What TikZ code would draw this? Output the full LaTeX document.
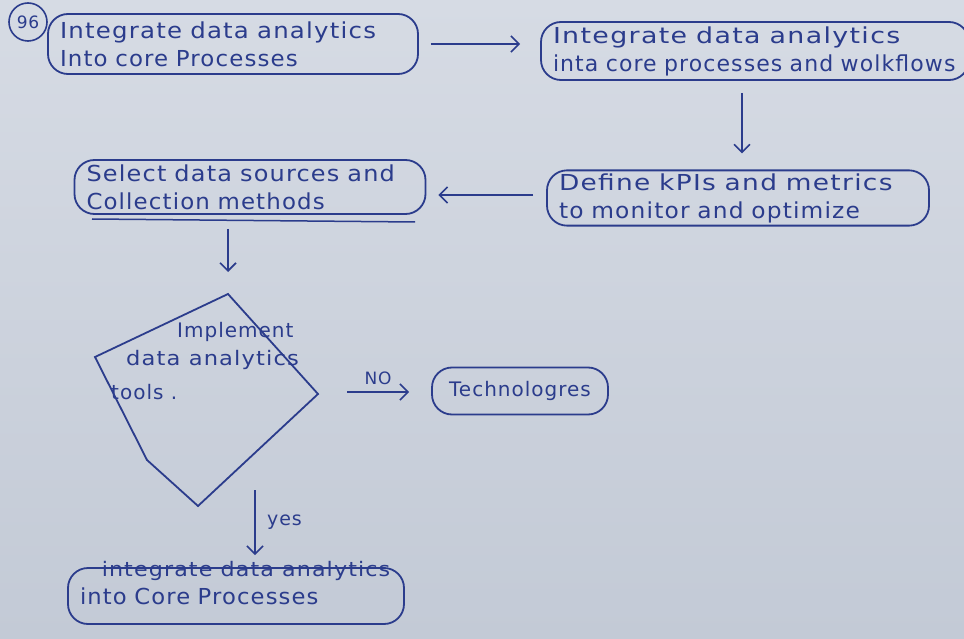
\documentclass[tikz,border=0pt]{standalone}
\usepackage{fontspec}
\setmainfont{DejaVu Sans}
\newfontfamily\hand[LetterSpace=5]{DejaVu Sans}
\usetikzlibrary{arrows.meta,calc}
\definecolor{ink}{HTML}{2B3C8C}
\definecolor{papertop}{HTML}{D6DBE4}
\definecolor{paperbot}{HTML}{C3CAD6}
\newcommand{\sx}[2]{\scalebox{#1}[1]{#2}}
\begin{document}
\begin{tikzpicture}[x=1pt,y=-1pt,
  every node/.style={font=\hand\fontsize{22}{28}\selectfont, text=ink},
  box/.style={draw=ink, line width=1.8pt, rounded corners=20pt, align=left, inner xsep=12pt, inner ysep=3pt},
  link/.style={draw=ink, line width=1.6pt, -{Straight Barb[length=8pt,width=16pt]}},
  lbl/.style={font=\hand\fontsize{17}{20}\selectfont},
  dtxt/.style={anchor=west, inner sep=0pt, font=\hand\fontsize{20}{22}\selectfont},
]
\shade[top color=papertop, bottom color=paperbot] (0,0) rectangle (964,639);
\useasboundingbox (0,0) rectangle (964,639);

\node[draw=ink, line width=1.6pt, circle, minimum size=38pt, inner sep=0pt, font=\hand\fontsize{17}{17}\selectfont] (num) at (28,22) {96};

\node[box, minimum width=370pt, minimum height=60pt, text width=346pt] (b1) at (233,44)
  {\sx{1.11}{Integrate data analytics}\\\sx{1.04}{Into core Processes}};
\node[box, minimum width=424pt, minimum height=58pt, text width=404pt] (b2) at (755,51)
  {\sx{1.22}{Integrate data analytics}\\\sx{1.0}{inta core processes and wolkflows}};
\node[box, minimum width=380pt, minimum height=52pt, text width=358pt] (b3) at (738,198)
  {\sx{1.2}{Define kPIs and metrics}\\\sx{1.06}{to monitor and optimize}};
\node[box, minimum width=349pt, minimum height=54pt, text width=327pt] (b4) at (250,187)
  {\sx{1.09}{Select data sources and}\\\sx{1.04}{Collection methods}};
\draw[ink, line width=1.5pt] (92,219) -- (415,222);

% decision
\coordinate (dt) at (228,294);
\coordinate (dr) at (318,394);
\coordinate (db) at (198,506);
\coordinate (dl2) at (147,460);
\coordinate (dl) at (95,357);
\draw[ink, line width=1.8pt] (dt) -- (dr) -- (db) -- (dl2) -- (dl) -- cycle;
\node[dtxt] (d1) at (177,332) {Implement};
\node[dtxt] (d2) at (126,360) {\sx{1.13}{data analytics}};
\node[dtxt] (d3) at (111,392) {tools .};

\node[box, minimum width=176pt, minimum height=47pt, inner xsep=8pt, font=\hand\fontsize{20}{22}\selectfont] (tech) at (520,391) {Technologres};
\node[box, minimum width=332pt, minimum height=56pt, text width=312pt] (bot) at (236,596) {\raisebox{-3pt}{\sx{1.03}{into Core Processes}}};
\node[inner sep=0pt, anchor=base, font=\hand\fontsize{20}{22}\selectfont] (strike) at (246,576) {\sx{1.11}{integrate data analytics}};

% connectors
\draw[link, shorten <=12pt, shorten >=20pt] (b1.east) -- (b1.east -| b2.west);
\draw[link] ($(b2.south)+(-13,12)$) -- ($(b3.north)+(4,-16)$);
\draw[link] ($(b3.west)+(-13,-3)$) -- ($(b4.east)+(12,8)$);
\draw[link] ($(b4.south)+(-22,14)$) -- ($(dt)+(0,-22)$);
\draw[link] ($(dr)+(29,-2)$) -- ($(tech.west)+(-22,1)$) node[lbl, midway, above=3pt] (no) {NO};
\coordinate (ys) at (255,490);
\draw[link] (ys) -- ($(bot.north -| ys)+(0,-12)$) node[lbl, midway, right=8pt, font=\hand\fontsize{19}{20}\selectfont] (yes) {yes};
\end{tikzpicture}
\end{document}
